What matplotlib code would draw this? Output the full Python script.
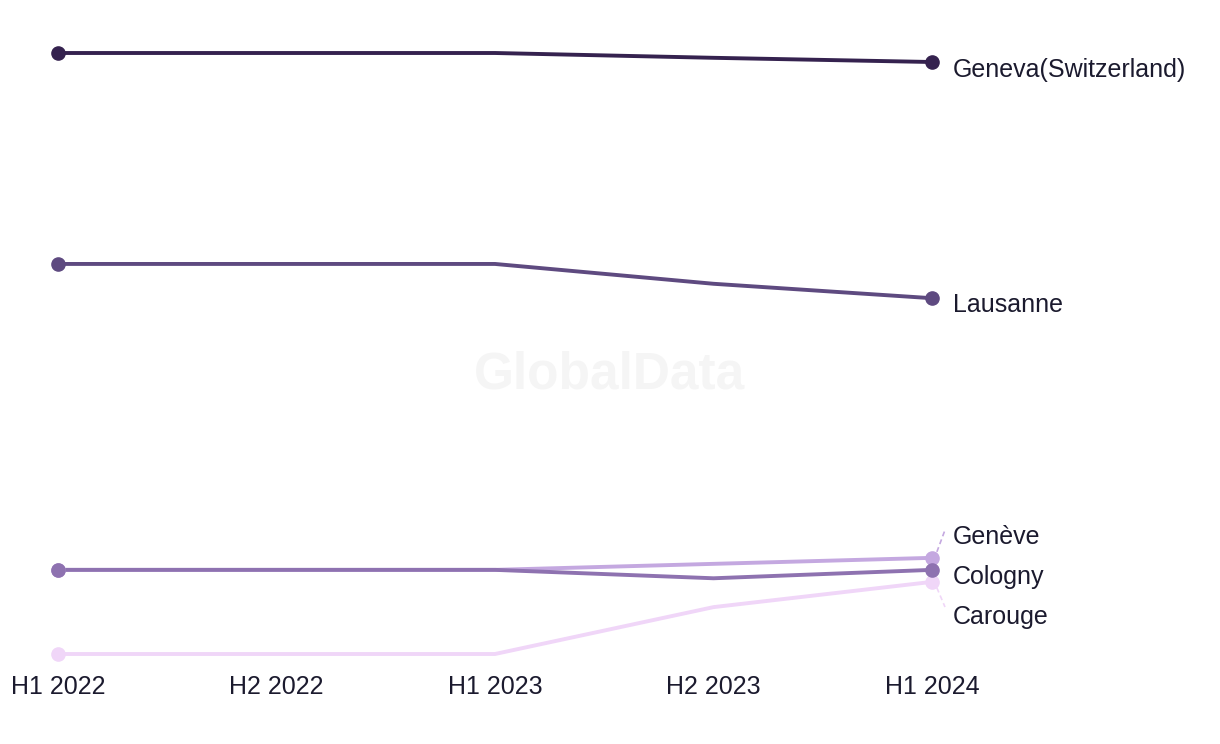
import matplotlib
matplotlib.use("Agg")
import matplotlib.pyplot as plt

periods = ["H1 2022", "H2 2022", "H1 2023", "H2 2023", "H1 2024"]
series_names = ["Geneva(Switzerland)", "Lausanne", "Genève", "Cologny", "Carouge"]
geneva_ch = [110.0, 110.0, 110.0, 109.2, 108.5]
lausanne = [74.9, 74.9, 74.9, 71.6, 69.2]
geneve = [24.0, 24.0, 24.0, 25.0, 26.0]
cologny = [24.0, 24.0, 24.0, 22.6, 24.0]
carouge = [10.0, 10.0, 10.0, 17.8, 22.0]
colors = ["#35224f", "#5e4a80", "#c4a8e0", "#8e72b0", "#f0d6f8"]

all_values = [geneva_ch, lausanne, geneve, cologny, carouge]

plt.rcParams['font.family'] = ['Liberation Sans', 'DejaVu Sans']
fig = plt.figure(figsize=(12.2, 7.44), dpi=100)
ax = fig.add_axes([58/1220, 1-654/744, (932-58)/1220, (654-53)/744])

x = list(range(len(periods)))
order = [4, 2, 3, 1, 0]
for i in order:
    vals = all_values[i]
    ax.plot(x, vals, color=colors[i], lw=2.8, solid_capstyle='round', clip_on=False, zorder=2)
    ax.plot([x[0], x[-1]], [vals[0], vals[-1]], 'o', color=colors[i], ms=9.5, clip_on=False, zorder=3)

ax.set_xlim(0, 4)
ax.set_ylim(10, 110)

text_color = "#1b1a2e"
label_px_y = [70, 305, 537, 577, 617]
for i, name in enumerate(series_names):
    fig.text(953/1220, 1-label_px_y[i]/744, name, fontsize=18, color=text_color,
             va='center', ha='left')

def pix_to_fig(px, py):
    return px/1220, 1-py/744
for i, ly in [(2, 530), (4, 607)]:
    vals = all_values[i]
    disp = ax.transData.transform((x[-1], vals[-1]))
    fx0, fy0 = fig.transFigure.inverted().transform(disp)
    fx1, fy1 = pix_to_fig(945, ly)
    dy = 0.008 if ly < 570 else -0.008
    fig.add_artist(plt.Line2D([fx0 + 0.004, fx1], [fy0 + dy, fy1], color=colors[i], lw=1.2, ls=(0, (3, 2))))

ax.set_xticks(x)
ax.set_xticklabels(periods, fontsize=18, color=text_color)
ax.tick_params(axis='x', length=0, pad=15)
ax.set_yticks([])
for s in ax.spines.values():
    s.set_visible(False)

fig.text(610/1220, 1-375/744, "GlobalData", fontsize=37, fontweight='bold', color="#f5f5f5",
         ha='center', va='center', zorder=0)

fig.savefig("out.png", dpi=100, facecolor='white')
